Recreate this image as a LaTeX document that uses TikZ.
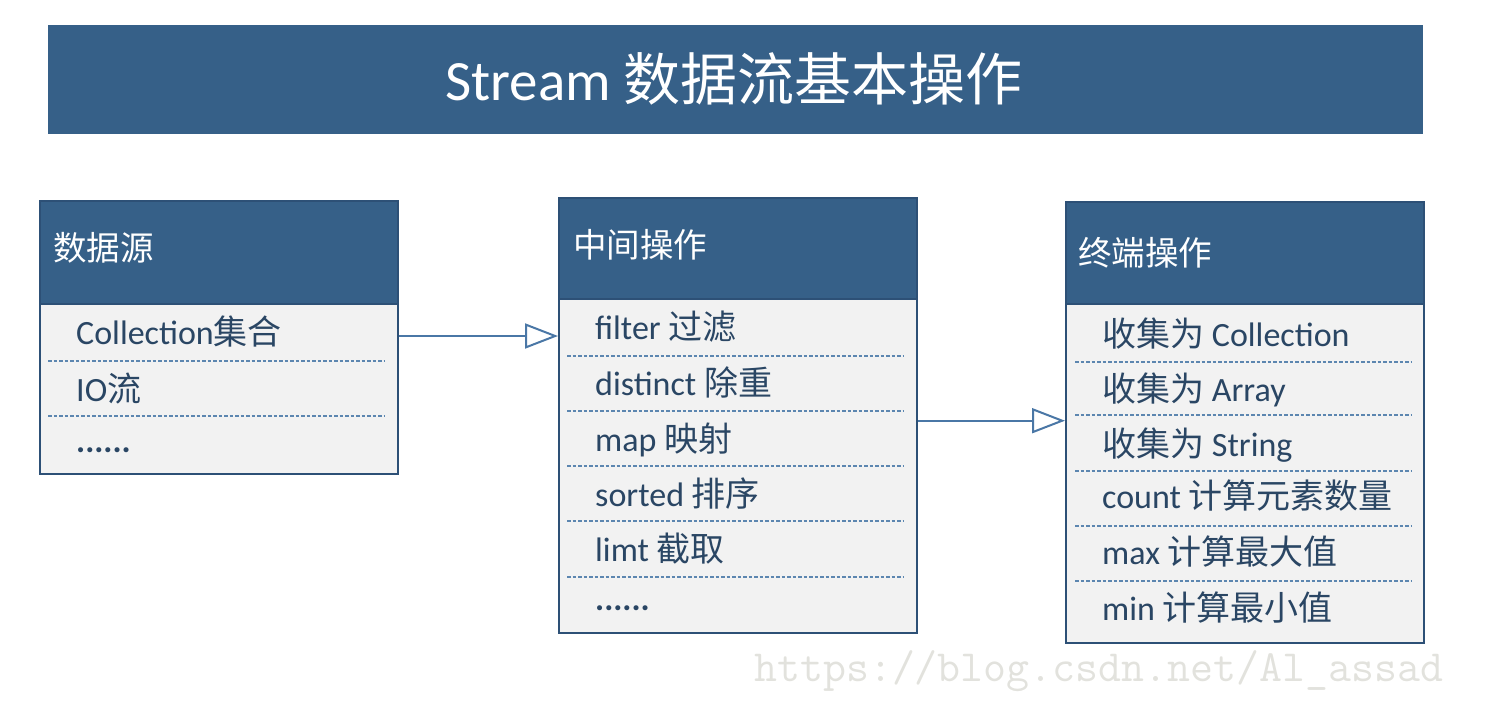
\documentclass[tikz,border=0pt]{standalone}
\usepackage{fontspec}
\setmainfont{Carlito}
\newfontfamily\cjk{Noto Sans CJK SC}
\usetikzlibrary{arrows.meta}
\definecolor{hdrblue}{RGB}{54,96,136}
\definecolor{bodygray}{RGB}{242,242,242}
\definecolor{edgeblue}{RGB}{45,80,118}
\definecolor{txtblue}{RGB}{42,70,100}
\definecolor{dotblue}{RGB}{92,134,176}
\definecolor{flowblue}{RGB}{74,119,166}
\definecolor{markgray}{RGB}{226,226,221}

\begin{document}
\begin{tikzpicture}[x=1pt,y=-1pt,
    bar/.style={fill=hdrblue,minimum width=1375pt,minimum height=109pt,anchor=north west,inner sep=0pt},
    hdr/.style={draw=edgeblue,line width=1.8pt,fill=hdrblue,minimum width=358pt,anchor=north west,inner sep=0pt},
    body/.style={draw=edgeblue,line width=1.8pt,fill=bodygray,minimum width=358pt,anchor=north west,inner sep=0pt},
    htxt/.style={anchor=base west,text=white,font=\fontsize{33.5}{40}\selectfont,inner sep=0pt},
    itm/.style={anchor=base west,text=txtblue,font=\fontsize{34}{40}\selectfont,inner sep=0pt},
    sep/.style={draw=dotblue,line width=2.4pt,dash pattern=on 3.5pt off 2pt},
    flow/.style={draw=flowblue,line width=2pt,-{Triangle[open,length=33pt,width=25pt,line width=2pt]}}]
      \useasboundingbox (0,0) rectangle (1497,710);

      % title
      \node[bar] (bar) at (48,25) {};
      \node[anchor=base,text=white,font=\fontsize{57}{62}\selectfont,inner sep=0pt] (title) at (734,100) {Stream {\cjk 数据流基本操作}};

      % source
      \node[hdr,minimum height=103pt] (srchdr) at (39,200) {};
      \node[body,minimum height=170pt] (srcbody) at (39,303) {};
      \node[htxt] (src) at (53,260.5) {\cjk 数据源};
      \node[itm] (coll) at (76,344) {Collection{\cjk 集合}};
      \node[itm] (io) at (76,401.5) {IO{\cjk 流}};
      \node[itm] (srcmore) at (76,452) {\textbf{......}};
      \draw[sep] (48,360.7) -- (385,360.7);
      \draw[sep] (48,416) -- (385,416);

      % intermediate
      \node[hdr,minimum height=101pt] (midhdr) at (558,197) {};
      \node[body,minimum height=334pt] (midbody) at (558,298) {};
      \node[htxt] (mid) at (573,257.5) {\cjk 中间操作};
      \node[itm] (filter) at (595,339.5) {filter {\cjk 过滤}};
      \node[itm] (distinct) at (595,395.5) {distinct {\cjk 除重}};
      \node[itm] (map) at (595,451) {map {\cjk 映射}};
      \node[itm] (sorted) at (595,506) {sorted {\cjk 排序}};
      \node[itm] (limt) at (595,561.5) {limt {\cjk 截取}};
      \node[itm] (midmore) at (595,610) {\textbf{......}};
      \draw[sep] (567,355.7) -- (903,355.7);
      \draw[sep] (567,410.7) -- (903,410.7);
      \draw[sep] (567,466) -- (903,466);
      \draw[sep] (567,521) -- (903,521);
      \draw[sep] (567,576.7) -- (903,576.7);

      % terminal
      \node[hdr,minimum height=102pt] (endhdr) at (1065,201) {};
      \node[body,minimum height=338.5pt] (endbody) at (1065,303.3) {};
      \node[htxt] (end) at (1078,265.5) {\cjk 终端操作};
      \node[itm] (tocoll) at (1102,346) {{\cjk 收集为} Collection};
      \node[itm] (toarr) at (1102,401.5) {{\cjk 收集为} Array};
      \node[itm] (tostr) at (1102,456.5) {{\cjk 收集为} String};
      \node[itm] (count) at (1102,508.5) {count {\cjk 计算元素数量}};
      \node[itm] (max) at (1102,564.5) {max {\cjk 计算最大值}};
      \node[itm] (min) at (1102,620) {min {\cjk 计算最小值}};
      \draw[sep] (1075,361.7) -- (1412,361.7);
      \draw[sep] (1075,415) -- (1412,415);
      \draw[sep] (1075,470.7) -- (1412,470.7);
      \draw[sep] (1075,525.7) -- (1412,525.7);
      \draw[sep] (1075,581) -- (1412,581);

      % arrows
      \coordinate (a1) at (0,336);
      \coordinate (a2) at (0,420.7);
      \draw[flow] (srcbody.east |- a1) to (midbody.west |- a1);
      \draw[flow] (midbody.east |- a2) to (endbody.west |- a2);

      \node[anchor=base west,text=markgray,font=\ttfamily\fontsize{44.6}{50}\selectfont,inner sep=0pt] (wm) at (754,681) {https://blog.csdn.net/Al\_assad};
    \end{tikzpicture}
\end{document}
